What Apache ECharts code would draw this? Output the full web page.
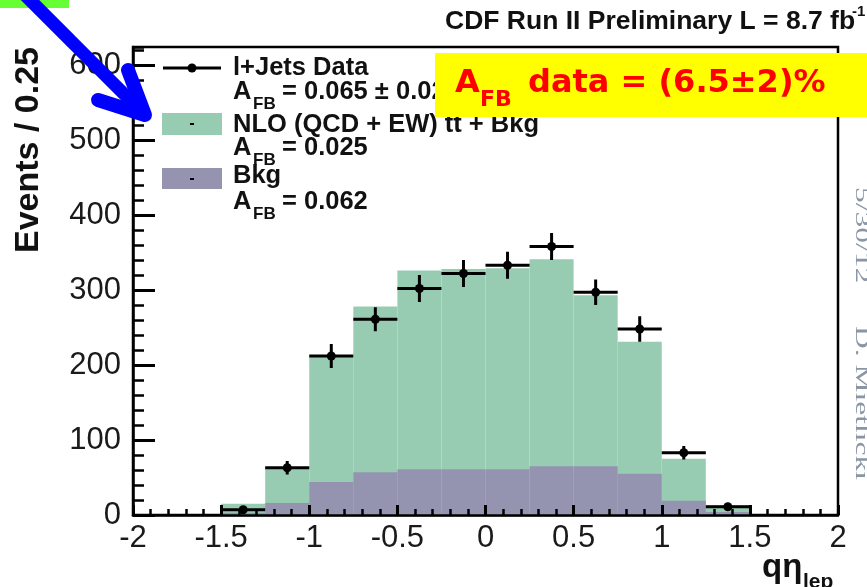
<!DOCTYPE html>
<html>
<head>
<meta charset="utf-8">
<script src="https://cdn.jsdelivr.net/npm/echarts@6/dist/echarts.min.js"></script>
<style>
html, body { margin: 0; padding: 0; background: #fff; }
#main { width: 867px; height: 587px; }
</style>
</head>
<body>
<div id="main"></div>
<script>
// histogram bins in q*eta_lep, width 0.25
const binLow = [-1.5, -1.25, -1, -0.75, -0.5, -0.25, 0, 0.25, 0.5, 0.75, 1, 1.25];
const binWidth = 0.25;

// l+jets data and its errors
const dataCounts = [7, 63, 212, 261, 302, 322, 333, 358, 297, 248, 83, 11];
const dataErr = [4, 9, 16, 16, 18, 18, 18, 18, 17, 17, 9, 4];

// NLO (QCD + EW) ttbar + bkg, and bkg alone
const totalPred = [15, 64, 212, 278, 326, 328, 329, 341, 293, 231, 75, 13];
const bkgPred = [3, 16, 44, 57, 61, 61, 61, 65, 65, 55, 19, 4];

const greenFill = '#98ccb2';
const purpleFill = '#9494b0';

const chart = echarts.init(document.getElementById('main'));

function histItem(color) {
    return function (params, api) {
        const p0 = api.coord([api.value(0), api.value(2)]);
        const p1 = api.coord([api.value(1), 0]);
        return {
            type: 'rect',
            shape: { x: p0[0], y: p0[1], width: p1[0] - p0[0], height: p1[1] - p0[1] },
            style: { fill: color }
        };
    };
}

function pointItem(params, api) {
    const lo = api.value(0), hi = api.value(1), y = api.value(2), e = api.value(3);
    const c = (lo + hi) / 2;
    const a = api.coord([lo, y]), b = api.coord([hi, y]);
    const t = api.coord([c, y + e]), d = api.coord([c, Math.max(0, y - e)]);
    const m = api.coord([c, y]);
    return {
        type: 'group',
        children: [
            { type: 'line', shape: { x1: a[0], y1: a[1], x2: b[0], y2: b[1] }, style: { stroke: '#000', lineWidth: 3 } },
            { type: 'line', shape: { x1: t[0], y1: t[1], x2: d[0], y2: d[1] }, style: { stroke: '#000', lineWidth: 3 } },
            { type: 'circle', shape: { cx: m[0], cy: m[1], r: 4.5 }, style: { fill: '#000' } }
        ]
    };
}

const labelFont = { fontFamily: 'Liberation Sans', fontSize: 31, color: '#1a1a1a' };
const legendFont = 'bold 25.5px "Liberation Sans"';
const subFont = 'bold 17px "Liberation Sans"';

function txt(x, y, text, font, fill, extra) {
    return Object.assign({
        type: 'text', x: x, y: y, z: 20,
        style: { text: text, font: font, fill: fill || '#111', textAlign: 'left', textVerticalAlign: 'middle' }
    }, extra || {});
}

const redFont = 'bold 32px "DejaVu Sans"';

const option = {
    animation: false,
    grid: {
        left: 133, right: 29, top: 47, bottom: 72,
        show: true, borderColor: '#000', borderWidth: 2.5, backgroundColor: 'transparent'
    },
    xAxis: {
        type: 'value', min: -2, max: 2, interval: 0.5, z: 5,
        axisLine: { onZero: false, lineStyle: { color: '#000', width: 2.5 } },
        axisTick: { inside: true, length: 10, lineStyle: { color: '#000', width: 3 } },
        minorTick: { show: true, splitNumber: 5, length: 6, lineStyle: { color: '#000', width: 2.5 } },
        splitLine: { show: false },
        axisLabel: Object.assign({ margin: 8, formatter: v => String(v) }, labelFont)
    },
    yAxis: [{
        type: 'value', min: 0, max: 624, interval: 100, z: 5,
        axisLine: { show: true, onZero: false, lineStyle: { color: '#000', width: 2.5 } },
        axisTick: { show: true, inside: true, length: 22, lineStyle: { color: '#000', width: 3 } },
        splitLine: { show: false },
        axisLabel: Object.assign({ margin: 12, showMaxLabel: false }, labelFont)
    }, {
        type: 'value', min: 0, max: 624, interval: 20, position: 'left', z: 5,
        axisLine: { show: false, onZero: false },
        axisTick: { show: true, inside: true, length: 11, lineStyle: { color: '#000', width: 2.5 } },
        splitLine: { show: false },
        axisLabel: { show: false }
    }],
    series: [{
        type: 'custom', name: 'NLO (QCD + EW) tt + Bkg', z: 2,
        renderItem: histItem(greenFill),
        data: binLow.map((lo, i) => [lo, lo + binWidth, totalPred[i]])
    }, {
        type: 'custom', name: 'Bkg', z: 3,
        renderItem: histItem(purpleFill),
        data: binLow.map((lo, i) => [lo, lo + binWidth, bkgPred[i]])
    }, {
        type: 'custom', name: 'l+Jets Data', z: 6,
        renderItem: pointItem,
        data: binLow.map((lo, i) => [lo, lo + binWidth, dataCounts[i], dataErr[i]])
    }],
    graphic: [
        // title
        txt(445, 22, 'CDF Run II Preliminary L = 8.7 fb', 'bold 26.5px "Liberation Sans"'),
        txt(852, 12, '-1', 'bold 15px "Liberation Sans"'),
        // axis names
        { type: 'text', x: 29, y: 150, z: 20, rotation: Math.PI / 2,
          style: { text: 'Events / 0.25', font: 'bold 34px "Liberation Sans"', fill: '#111', textAlign: 'center', textVerticalAlign: 'middle' } },
        txt(762, 568, 'q\u03b7', 'bold 33px "Liberation Sans"'),
        txt(803, 582, 'lep', 'bold 21px "Liberation Sans"'),
        // side stamp
        { type: 'text', x: 861, y: 187, z: 20, rotation: -Math.PI / 2, scaleX: 1.75,
          style: { text: '5/30/12', font: '18px "Liberation Serif"', fill: '#8a96a6', textAlign: 'left', textVerticalAlign: 'middle' } },
        { type: 'text', x: 861, y: 326, z: 20, rotation: -Math.PI / 2, scaleX: 1.75,
          style: { text: 'D. Mietlicki', font: '18px "Liberation Serif"', fill: '#8a96a6', textAlign: 'left', textVerticalAlign: 'middle' } },
        // legend
        { type: 'line', z: 20, shape: { x1: 163, y1: 68, x2: 221, y2: 68 }, style: { stroke: '#000', lineWidth: 3 } },
        { type: 'circle', z: 20, shape: { cx: 192, cy: 68, r: 4.5 }, style: { fill: '#000' } },
        txt(233, 68, 'l+Jets Data', legendFont),
        txt(233, 92, 'A', legendFont),
        txt(253, 104, 'FB', subFont),
        txt(282, 92, '= 0.065 \u00b1 0.020', legendFont),
        { type: 'rect', z: 20, shape: { x: 162, y: 113, width: 60, height: 22 }, style: { fill: greenFill } },
        { type: 'rect', z: 21, shape: { x: 190, y: 123, width: 4, height: 2 }, style: { fill: '#000' } },
        txt(233, 125, 'NLO (QCD + EW) t\u0304t + Bkg', legendFont),
        txt(233, 148, 'A', legendFont),
        txt(253, 160, 'FB', subFont),
        txt(282, 148, '= 0.025', legendFont),
        { type: 'rect', z: 20, shape: { x: 162, y: 168, width: 60, height: 21 }, style: { fill: purpleFill } },
        { type: 'rect', z: 21, shape: { x: 190, y: 178, width: 4, height: 2 }, style: { fill: '#000' } },
        txt(233, 176, 'Bkg', legendFont),
        txt(233, 202, 'A', legendFont),
        txt(253, 214, 'FB', subFont),
        txt(282, 202, '= 0.062', legendFont),
        // annotation box
        { type: 'rect', z: 30, shape: { x: 435, y: 53, width: 440, height: 64 }, style: { fill: '#ffff00' } },
        txt(455, 84, 'A', redFont, '#ff0000', { z: 31 }),
        txt(480, 100, 'FB', 'bold 22px "DejaVu Sans"', '#ff0000', { z: 31 }),
        txt(528, 84, 'data = (6.5\u00b12)%', redFont, '#ff0000', { z: 31 }),
        // pointer arrow and tab
        { type: 'rect', z: 30, shape: { x: 0, y: 0, width: 69, height: 8 }, style: { fill: '#66ff33' } },
        { type: 'line', z: 30, shape: { x1: 25, y1: -5, x2: 143, y2: 113 }, style: { stroke: '#0000ff', lineWidth: 13 } },
        { type: 'polyline', z: 30, shape: { points: [[128, 70], [145, 115], [98, 100]] },
          style: { stroke: '#0000ff', lineWidth: 14, fill: null, lineCap: 'round', lineJoin: 'round' } }
    ]
};

chart.setOption(option);
</script>
</body>
</html>
